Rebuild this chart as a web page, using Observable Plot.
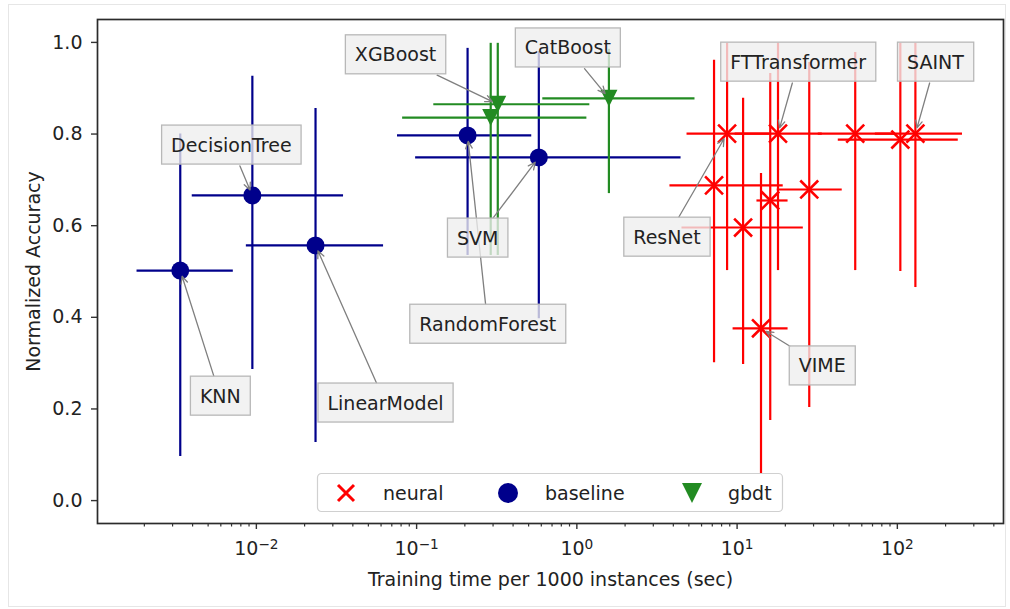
<!DOCTYPE html>
<html>
<head>
<meta charset="utf-8">
<script src="https://cdn.jsdelivr.net/npm/d3@7"></script>
<script src="https://cdn.jsdelivr.net/npm/@observablehq/plot@0.6"></script>
<style>
html, body { margin: 0; padding: 0; background: #fff; }
#wrap { position: relative; width: 1010px; height: 609px; font-family: "DejaVu Sans", sans-serif; }
#border { position: absolute; left: 8px; top: 4px; width: 996px; height: 601px; border: 1px solid #e6e6e6; pointer-events: none; }
#chart { position: absolute; left: 0; top: 0; }
</style>
</head>
<body>
<div id="wrap"><div id="border"></div><div id="chart"></div></div>
<script>
// ---------- data ----------
const models = ["ResNet", "FTTransformer", "neural-3", "neural-4", "VIME", "neural-6", "neural-7", "neural-8", "neural-9", "SAINT",
                "KNN", "DecisionTree", "LinearModel", "RandomForest", "SVM",
                "gbdt-1", "XGBoost", "CatBoost"];
const family = ["neural", "neural", "neural", "neural", "neural", "neural", "neural", "neural", "neural", "neural",
                "baseline", "baseline", "baseline", "baseline", "baseline",
                "gbdt", "gbdt", "gbdt"];
const time   = [8.66, 18.0, 7.18, 10.9, 14.1, 16.1, 28.2, 54.6, 104.4, 129.6,
                0.00335, 0.00944, 0.0234, 0.208, 0.579,
                0.290, 0.321, 1.585];
const timeLo = [4.87, 9.72, 3.81, 4.53, 9.44, 13.3, 17.8, 32.1, 42.8, 72.9,
                0.0018, 0.00398, 0.00866, 0.076, 0.0986,
                0.0818, 0.128, 0.613];
const timeHi = [16.1, 34.0, 19.4, 25.9, 20.8, 20.8, 45.3, 97.2, 240, 255,
                0.00718, 0.035, 0.0622, 0.523, 4.47,
                1.155, 1.205, 5.46];
const acc    = [0.801, 0.801, 0.688, 0.596, 0.376, 0.655, 0.679, 0.801, 0.788, 0.801,
                0.502, 0.666, 0.557, 0.797, 0.749,
                0.836, 0.865, 0.878];
const accLo  = [0.502, 0.502, 0.301, 0.297, 0.059, 0.175, 0.203, 0.502, 0.500, 0.465,
                0.096, 0.286, 0.127, 0.535, 0.397,
                0.535, 0.535, 0.670];
const accHi  = [0.998, 0.998, 0.961, 0.878, 0.714, 0.932, 0.956, 0.978, 0.998, 0.998,
                0.800, 0.926, 0.856, 0.987, 0.980,
                0.998, 0.998, 0.985];

// annotations: label, text position (data units); each points at the model of the same name
const annLabels  = ["XGBoost", "CatBoost", "DecisionTree", "KNN", "LinearModel", "RandomForest", "SVM", "ResNet", "FTTransformer", "SAINT", "VIME"];
const annTime    = [0.0739, 0.8785, 0.00698, 0.00596, 0.064, 0.278, 0.2405, 3.65, 24.05, 172.8, 34.0];
const annAcc     = [0.972, 0.987, 0.775, 0.227, 0.212, 0.384, 0.572, 0.574, 0.956, 0.956, 0.293];

// axis ticks
const yTicks = [0.0, 0.2, 0.4, 0.6, 0.8, 1.0];
const xMajor = [0.01, 0.1, 1, 10, 100];
const xMajorBase = ["10", "10", "10", "10", "10"];
const xMajorExp = ["\u22122", "\u22121", "0", "1", "2"];
const xMinorAll = [];
for (const dec of [0.001, 0.01, 0.1, 1, 10, 100]) for (let m = 2; m <= 9; m++) xMinorAll.push(+(m * dec).toPrecision(3));

const legendKeys = ["neural", "baseline", "gbdt"];

// ---------- styling ----------
const colors = {neural: "#ff0000", baseline: "#00008b", gbdt: "#228b22"};
const W = 1010, H = 609;
const M = {left: 97, top: 19, right: 7, bottom: 86};
const xDomain = [1.02e-3, 459.7];
const yDomain = [-0.05, 1.05];
const xMinor = xMinorAll.filter(v => v >= xDomain[0] && v <= xDomain[1]);
const FONT = 19;
const PAD = 9.5, BOX_H = 39;

const triangleDown = {
  draw(context, size) {
    const r = Math.sqrt(size / Math.PI);
    context.moveTo(-r, -r);
    context.lineTo(r, -r);
    context.lineTo(0, r);
    context.closePath();
  }
};

const rows = models.map((m, i) => ({model: m, family: family[i], t: time[i], tLo: timeLo[i], tHi: timeHi[i], a: acc[i], aLo: accLo[i], aHi: accHi[i]}));
const fam = f => rows.filter(r => r.family === f);

const X = Plot.scale({x: {type: "log", domain: xDomain, range: [M.left, W - M.right]}});
const Y = Plot.scale({y: {type: "linear", domain: yDomain, range: [H - M.bottom, M.top]}});
const ctx = document.createElement("canvas").getContext("2d");
ctx.font = `${FONT}px "DejaVu Sans"`;

const annData = annLabels.map((label, i) => {
  const k = models.indexOf(label);
  return {label, tx: annTime[i], ty: annAcc[i], x: time[k], y: acc[k]};
});
const arrowMarks = annData.map(a => {
  const cx = X.apply(a.tx), cy = Y.apply(a.ty), px = X.apply(a.x), py = Y.apply(a.y);
  const dx = px - cx, dy = py - cy, len = Math.hypot(dx, dy);
  const hw = (ctx.measureText(a.label).width + 2 * PAD) / 2, hh = BOX_H / 2;
  const t = Math.min(hw / Math.max(Math.abs(dx), 1e-9), hh / Math.max(Math.abs(dy), 1e-9));
  return Plot.arrow([a], {x1: "tx", y1: "ty", x2: "x", y2: "y", insetStart: t * len + 1, insetEnd: 6,
    stroke: "#7f7f7f", strokeWidth: 1.3, headLength: 9, headAngle: 50});
});

function errMarks(f, dotOpts) {
  const d = fam(f);
  return [
    Plot.ruleY(d, {y: "a", x1: "tLo", x2: "tHi", stroke: colors[f], strokeWidth: 2.2}),
    Plot.ruleX(d, {x: "t", y1: "aLo", y2: "aHi", stroke: colors[f], strokeWidth: 2.2}),
    Plot.dot(d, {x: "t", y: "a", ...dotOpts})
  ];
}

const chart = Plot.plot({
  width: W, height: H,
  marginLeft: M.left, marginTop: M.top, marginRight: M.right, marginBottom: M.bottom,
  style: {fontFamily: "DejaVu Sans", fontSize: FONT + "px", color: "#222", background: "transparent"},
  x: {type: "log", domain: xDomain},
  y: {domain: yDomain},
  marks: [
    Plot.axisX({ticks: xMinor, tickSize: 3.5, tickFormat: () => "", label: null, stroke: "#333", strokeWidth: 1.2}),
    Plot.axisX({ticks: xMajor, tickSize: 6, tickPadding: 12, tickFormat: d => "10^" + xMajor.indexOf(d),
      fontSize: FONT, stroke: "#333", strokeWidth: 1.4, fill: "#222",
      label: "Training time per 1000 instances (sec)", labelAnchor: "center", labelOffset: 62, labelArrow: "none"}),
    Plot.axisY({ticks: yTicks, tickSize: 6, tickPadding: 9, tickFormat: d3.format(".1f"),
      fontSize: FONT, stroke: "#333", strokeWidth: 1.4, fill: "#222",
      label: "Normalized Accuracy", labelAnchor: "center", labelOffset: 71, labelArrow: "none"}),
    ...errMarks("neural", {symbol: "times", r: 8.2, stroke: colors.neural, strokeWidth: 2.6}),
    ...errMarks("baseline", {symbol: "circle", r: 9, fill: colors.baseline}),
    ...errMarks("gbdt", {symbol: triangleDown, r: 8.5, fill: colors.gbdt}),
    ...arrowMarks,
    Plot.text(annData, {x: "tx", y: "ty", text: "label", fontSize: FONT, fill: "#222"}),
    Plot.frame({stroke: "#2b2b2b", strokeWidth: 1.7})
  ]
});

document.getElementById("chart").append(chart);
const svgNode = chart.tagName.toLowerCase() === "svg" ? chart : chart.querySelector("svg");
const NS = "http://www.w3.org/2000/svg";

// superscript exponents on the log-axis tick labels
d3.select(svgNode).selectAll("text").each(function () {
  const m = /^10\^(\d)$/.exec(this.textContent);
  if (!m) return;
  const i = +m[1];
  const sel = d3.select(this);
  sel.text("");
  sel.append("tspan").text(xMajorBase[i]);
  sel.append("tspan").attr("dy", "-0.45em").attr("font-size", "0.72em").text(xMajorExp[i]);
});

// boxes behind the annotation texts
const annSet = new Set(annLabels);
d3.select(svgNode).selectAll("text").filter(function () { return annSet.has(this.textContent); }).each(function () {
  const b = this.getBBox();
  const r = document.createElementNS(NS, "rect");
  const cy = b.y + b.height / 2;
  r.setAttribute("x", b.x - PAD);
  r.setAttribute("y", cy - BOX_H / 2);
  r.setAttribute("width", b.width + 2 * PAD);
  r.setAttribute("height", BOX_H);
  r.setAttribute("fill", "#eeeeee");
  r.setAttribute("fill-opacity", "0.78");
  r.setAttribute("stroke", "#b8b8b8");
  r.setAttribute("stroke-width", "1.3");
  if (this.getAttribute("transform")) r.setAttribute("transform", this.getAttribute("transform"));
  this.parentNode.insertBefore(r, this);
});

// legend (inside the frame, lower centre)
const lg = d3.select(svgNode).append("g").attr("transform", "translate(317,473)")
  .attr("font-family", "DejaVu Sans").attr("font-size", FONT).attr("text-anchor", "start");
lg.append("rect").attr("x", 0.5).attr("y", 0.5).attr("width", 465).attr("height", 38).attr("rx", 4)
  .attr("fill", "#fff").attr("fill-opacity", 0.8).attr("stroke", "#d0d0d0").attr("stroke-width", 1.2);
const legendPos = [{sx: 29, tx: 66}, {sx: 191, tx: 228}, {sx: 375, tx: 411}];
legendKeys.forEach((k, i) => {
  const p = legendPos[i];
  const cy = 20;
  if (k === "neural") {
    lg.append("path").attr("d", `M${p.sx - 8},${cy - 8}L${p.sx + 8},${cy + 8}M${p.sx - 8},${cy + 8}L${p.sx + 8},${cy - 8}`)
      .attr("stroke", colors.neural).attr("stroke-width", 3).attr("fill", "none");
  } else if (k === "baseline") {
    lg.append("circle").attr("cx", p.sx).attr("cy", cy).attr("r", 10).attr("fill", colors.baseline);
  } else {
    lg.append("path").attr("d", `M${p.sx - 10},${cy - 10}L${p.sx + 10},${cy - 10}L${p.sx},${cy + 10}Z`).attr("fill", colors.gbdt);
  }
  lg.append("text").attr("x", p.tx).attr("y", cy).attr("dy", "0.35em").attr("fill", "#222").attr("text-anchor", "start").text(k);
});
</script>
</body>
</html>
